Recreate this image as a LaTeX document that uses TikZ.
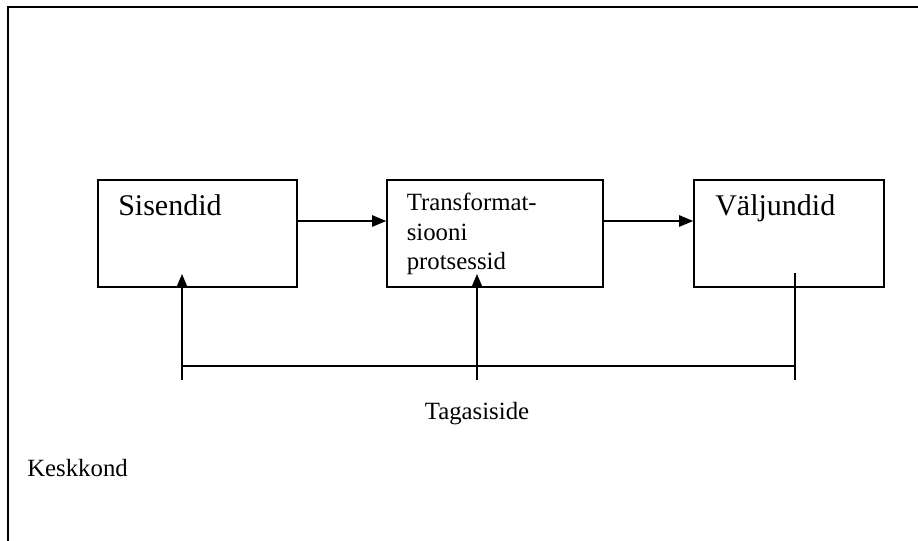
\documentclass[tikz,border=0pt]{standalone}
\usepackage{fontspec}
\setmainfont{Liberation Serif}
\usetikzlibrary{arrows.meta}
\tikzset{
  boxnode/.style={draw, line width=1.2pt, inner sep=0pt, fill=white},
  arr/.style={line width=1.1pt, -{Triangle[length=10.5pt,width=8.5pt]}},
  plain/.style={line width=1.1pt},
  frame/.style={line width=2pt},
  bigtxt/.style={anchor=base west, inner sep=0pt, font=\fontsize{22.5}{27}\selectfont},
  smalltxt/.style={inner sep=0pt, font=\fontsize{18.6}{22}\selectfont},
}
\begin{document}
\begin{tikzpicture}[x=0.75pt,y=-0.75pt]
\useasboundingbox (0,0) rectangle (918,541);
\fill[white] (0,0) rectangle (918,541);
% outer frame (left and top)
\coordinate (fbl) at (8,541);
\coordinate (ftl) at (8,7);
\coordinate (ftr) at (918,7);
\draw[frame] (fbl) -- (ftl) -- (ftr);
% boxes
\node[boxnode, minimum width=149.25pt, minimum height=80.25pt] (s) at (197.5,233.5) {};
\node[boxnode, minimum width=162pt, minimum height=80.25pt] (t) at (495,233.5) {};
\node[boxnode, minimum width=142.5pt, minimum height=80.25pt] (v) at (789,233.5) {};
% texts
\node[bigtxt] (sl) at (118,216) {Sisendid};
\node[bigtxt] (vl) at (715,216) {Väljundid};
\node[smalltxt, anchor=base west] (tl) at (406.5,210.7) {\vtop{\baselineskip=22pt\hbox{Transformat-}\hbox{siooni}\hbox{protsessid}}};
\node[smalltxt, anchor=base] (tg) at (477,420) {Tagasiside};
\node[smalltxt, anchor=base west] (kk) at (27,477) {Keskkond};
% horizontal arrows
\coordinate (ay) at (0,221);
\draw[arr] (s.east |- ay) -- (t.west |- ay);
\draw[arr] (t.east |- ay) -- (v.west |- ay);
% feedback
\coordinate (b1) at (182,380);
\coordinate (b2) at (477,380);
\coordinate (b3) at (795,380);
\coordinate (h1) at (182,366);
\coordinate (h3) at (795,366);
\coordinate (u1) at (182,274);
\coordinate (u2) at (477,274);
\coordinate (u3) at (795,273);
\draw[plain] (h1) -- (h3);
\draw[arr] (b1) -- (u1);
\draw[arr] (b2) -- (u2);
\draw[plain] (b3) -- (u3);
\end{tikzpicture}
\end{document}
